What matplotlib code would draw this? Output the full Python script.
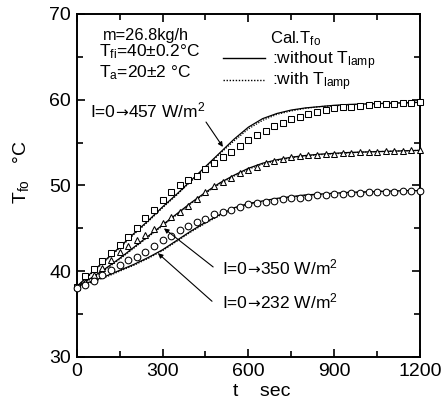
import matplotlib
matplotlib.use("Agg")
import matplotlib.pyplot as plt
from matplotlib.lines import Line2D
from matplotlib.text import Annotation
from matplotlib.ticker import MultipleLocator

plt.rcParams['font.family'] = ['Liberation Sans', 'DejaVu Sans']
plt.rcParams['mathtext.fontset'] = 'custom'
plt.rcParams['mathtext.rm'] = 'Liberation Sans'
plt.rcParams['mathtext.it'] = 'Liberation Sans'

# measured outlet temperature, sampled every 30 s
t_meas = list(range(0, 1201, 30))
tfo_457 = [38.2, 39.4, 40.3, 41.2, 42.1, 43.1, 44.0, 45.1, 46.2, 47.2,
           48.3, 49.2, 50.0, 50.6, 51.1, 51.9, 52.6, 53.3, 53.9, 54.6,
           55.3, 55.9, 56.4, 56.9, 57.3, 57.7, 58.0, 58.3, 58.6, 58.8,
           59.0, 59.1, 59.2, 59.3, 59.4, 59.45, 59.5, 59.55, 59.6, 59.65, 59.7]
tfo_350 = [38.2, 38.8, 39.6, 40.4, 41.3, 42.3, 43.0, 43.6, 44.2, 44.9,
           45.6, 46.3, 46.9, 47.6, 48.4, 49.2, 49.9, 50.4, 50.9, 51.4,
           51.8, 52.2, 52.6, 52.9, 53.1, 53.3, 53.4, 53.5, 53.6, 53.65,
           53.7, 53.75, 53.8, 53.85, 53.9, 53.95, 54.0, 54.0, 54.05, 54.1, 54.1]
tfo_232 = [38.1, 38.4, 38.9, 39.6, 40.1, 40.7, 41.3, 41.7, 42.3, 42.9,
           43.6, 44.1, 44.8, 45.3, 45.7, 46.1, 46.7, 46.9, 47.1, 47.5,
           47.8, 48.0, 48.1, 48.2, 48.4, 48.5, 48.6, 48.7, 48.85, 48.95,
           49.0, 49.05, 49.1, 49.15, 49.2, 49.25, 49.3, 49.3, 49.35, 49.4, 49.4]

# calculated outlet temperature, every 50 s
t_calc = list(range(0, 1201, 50))
cal_457 = [38.2, 39.8, 41.3, 42.8, 44.4, 45.9, 47.5, 49.0, 50.6, 52.2,
           53.8, 55.4, 56.8, 57.8, 58.4, 58.8, 59.05, 59.2, 59.35, 59.45,
           59.5, 59.55, 59.6, 59.65, 59.7]
cal_350 = [38.2, 39.2, 40.3, 41.5, 42.8, 44.1, 45.4, 46.7, 48.0, 49.2,
           50.3, 51.2, 52.0, 52.6, 53.0, 53.3, 53.5, 53.65, 53.75, 53.85,
           53.9, 53.95, 54.0, 54.05, 54.1]
cal_232 = [38.2, 38.8, 39.4, 40.1, 40.8, 41.6, 42.5, 43.6, 44.7, 45.7,
           46.6, 47.4, 47.9, 48.2, 48.5, 48.7, 48.9, 49.0, 49.1, 49.2,
           49.25, 49.3, 49.35, 49.4, 49.4]
# calculated including lamp temperature
cal_457_lamp = [38.2, 39.7, 41.2, 42.7, 44.3, 45.8, 47.4, 48.9, 50.5, 52.1,
                53.7, 55.2, 56.6, 57.6, 58.3, 58.7, 59.0, 59.2, 59.3, 59.4,
                59.5, 59.55, 59.6, 59.65, 59.7]
cal_350_lamp = [38.2, 39.1, 40.2, 41.4, 42.7, 44.0, 45.3, 46.6, 47.9, 49.1,
                50.2, 51.1, 51.9, 52.5, 52.9, 53.25, 53.45, 53.6, 53.7, 53.8,
                53.9, 53.95, 54.0, 54.05, 54.1]
cal_232_lamp = [38.2, 38.7, 39.3, 40.0, 40.7, 41.5, 42.4, 43.5, 44.6, 45.6,
                46.5, 47.3, 47.8, 48.15, 48.45, 48.65, 48.85, 48.95, 49.05, 49.15,
                49.2, 49.3, 49.35, 49.4, 49.4]

x_ticks = [0, 300, 600, 900, 1200]
y_ticks = [30, 40, 50, 60, 70]

W, H = 442, 404
fig = plt.figure(figsize=(W / 100, H / 100), dpi=100)
ax = fig.add_axes([76.7 / W, 1 - 357 / H, (420 - 76.7) / W, (357 - 14) / H])

for cal, lamp in ((cal_457, cal_457_lamp), (cal_350, cal_350_lamp), (cal_232, cal_232_lamp)):
    ax.plot(t_calc, cal, color='black', lw=0.9, solid_capstyle='round', zorder=2)
    ax.plot(t_calc, lamp, color='black', lw=0.9, ls=(0, (1, 1.2)), zorder=2)

mk = dict(ls='none', mfc='white', mec='black', mew=0.75, ms=4.8, clip_on=False, zorder=3)
ax.plot(t_meas, tfo_457, marker='s', **mk)
ax.plot(t_meas, tfo_350, marker='^', **mk)
ax.plot(t_meas, tfo_232, marker='o', **mk)

ax.set_xlim(0, 1200)
ax.set_ylim(30, 70)
ax.set_xticks(x_ticks)
ax.set_yticks(y_ticks)
ax.xaxis.set_minor_locator(MultipleLocator(150))
ax.yaxis.set_minor_locator(MultipleLocator(5))
ax.tick_params(which='both', direction='in', top=True, right=True, width=1.2,
               labelsize=14, colors='black')
ax.tick_params(which='major', length=6, pad=4)
ax.tick_params(which='minor', length=4)
for s in ax.spines.values():
    s.set_linewidth(1.4)


def px(x, y):
    return x / W, 1 - y / H


fig.text(*px(262, 392), 't    sec', fontsize=14, ha='center', va='center')
fig.text(*px(21, 172), r'T$_{\rm fo}$   °C', fontsize=14, ha='center', va='center', rotation=90)

fs = 12.5
fig.text(*px(103, 40), 'm=26.8kg/h', fontsize=11.8, ha='left', va='baseline')
fig.text(*px(99, 56), r'T$_{\rm fi}$=40±0.2°C', fontsize=fs, ha='left', va='baseline')
fig.text(*px(99, 77.5), r'T$_{\rm a}$=20±2 °C', fontsize=fs, ha='left', va='baseline')
fig.text(*px(270, 43.5), r'Cal.T$_{\rm fo}$', fontsize=12, ha='left', va='baseline')
fig.text(*px(272, 64), r':without T$_{\rm lamp}$', fontsize=fs, ha='left', va='baseline')
fig.text(*px(272, 85), r':with T$_{\rm lamp}$', fontsize=fs, ha='left', va='baseline')
fig.add_artist(Line2D([223 / W, 265 / W], [1 - 58 / H, 1 - 58 / H], color='black', lw=1.0))
fig.add_artist(Line2D([223 / W, 264 / W], [1 - 80 / H, 1 - 80 / H], color='black', lw=1.0,
                      ls=(0, (1, 1.2))))


def irradiance_label(x, yb, level):
    """'I=0', an arrow glyph, then the final irradiance, set on one baseline."""
    yf = 1 - yb / H
    t1 = fig.text(x / W, yf, 'I=0', fontsize=fs, ha='left', va='baseline')
    t2 = Annotation('→', xy=(1, yf), xycoords=(t1, 'figure fraction'),
                    fontsize=11, family='DejaVu Sans', ha='left', va='baseline')
    fig.add_artist(t2)
    t3 = Annotation(level + r' W/m$^{2}$', xy=(1, yf), xycoords=(t2, 'figure fraction'),
                    fontsize=fs, ha='left', va='baseline')
    fig.add_artist(t3)


irradiance_label(90, 117.5, '457')
irradiance_label(222, 274.5, '350')
irradiance_label(222, 308, '232')

arr = dict(arrowstyle='-|>', color='black', lw=0.8, mutation_scale=7, shrinkA=0, shrinkB=0)
ax.annotate('', xy=(511, 54.5), xytext=(452, 57.4), arrowprops=arr)
ax.annotate('', xy=(305, 45.0), xytext=(477, 40.5), arrowprops=arr)
ax.annotate('', xy=(284, 42.1), xytext=(473, 36.5), arrowprops=arr)

fig.savefig('out.png', dpi=100)
